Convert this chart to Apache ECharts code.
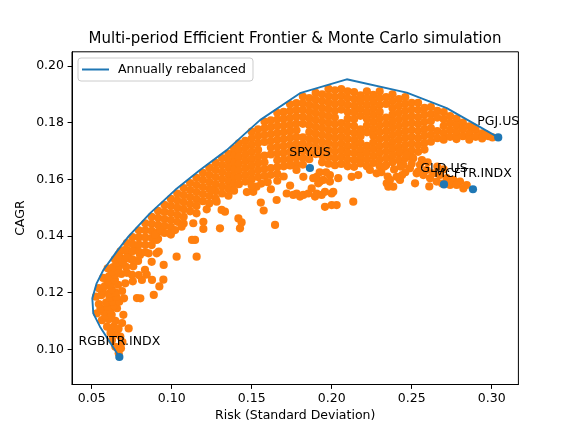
<!DOCTYPE html>
<html><head><meta charset="utf-8">
<script src="https://cdn.jsdelivr.net/npm/echarts@6/dist/echarts.min.js"></script>
<style>html,body{margin:0;padding:0;background:#fff}#c{width:576px;height:432px}</style>
</head><body><div id="c"></div>
<script>
// Axis ranges and ticks
const xMin = 0.0377, xMax = 0.3167;
const yMin = 0.0876, yMax = 0.2050;
const xTicks = [0.05, 0.10, 0.15, 0.20, 0.25, 0.30];
const yTicks = [0.10, 0.12, 0.14, 0.16, 0.18, 0.20];

// Efficient frontier (annually rebalanced)
const frontierRisk = [0.0673,0.0625,0.0552,0.0510,0.0504,0.0531,0.0573,0.0656,0.0729,0.0864,0.1021,0.1177,0.1344,0.1552,0.1802,0.2094,0.2469,0.2719,0.3041];
const frontierCagr = [0.0973,0.1015,0.1080,0.1127,0.1180,0.1233,0.1280,0.1345,0.1398,0.1480,0.1562,0.1633,0.1703,0.1809,0.1904,0.1953,0.1906,0.1851,0.1748];

// Assets
const assetNames = ['RGBITR.INDX','SPY.US','PGJ.US','GLD.US','MCFTR.INDX'];
const assetRisk = [0.0673,0.1864,0.3041,0.2702,0.2883];
const assetCagr = [0.0973,0.1640,0.1748,0.1582,0.1565];

// Monte Carlo portfolios (risk, CAGR)
const mcLowerLeft = [
[0.0669,0.0986],[0.0648,0.1009],[0.0683,0.1004],[0.0627,0.1033],[0.0679,0.1045],[0.0692,0.1026],[0.0655,0.1055],
[0.0596,0.1080],[0.0638,0.1080],[0.0668,0.1073],[0.0564,0.1103],[0.0606,0.1106],[0.0648,0.1101],[0.0690,0.1093],
[0.0731,0.1074],[0.0618,0.1058],[0.0585,0.1118],[0.0625,0.1122],
[0.0533,0.1127],[0.0575,0.1133],[0.0616,0.1139],[0.0658,0.1145],[0.0698,0.1122],[0.0555,0.1145],[0.0598,0.1150],[0.0640,0.1155],
[0.0545,0.1160],[0.0590,0.1165],[0.0630,0.1170],[0.0672,0.1168],[0.0702,0.1180],[0.0612,0.1182],[0.0655,0.1185],
[0.0527,0.1186],[0.0560,0.1191],[0.0605,0.1196],[0.0648,0.1201],[0.0690,0.1206],[0.0565,0.1208],[0.0625,0.1212],
[0.0783,0.1181],[0.0804,0.1180],[0.0888,0.1192],
[0.0545,0.1216],[0.0582,0.1223],[0.0620,0.1230],[0.0665,0.1228],[0.0710,0.1233],[0.0757,0.1240],[0.0600,0.1240],[0.0645,0.1245],
[0.0814,0.1245],[0.0877,0.1245],[0.0923,0.1222],[0.0948,0.1246],[0.0950,0.1298],
[0.0572,0.1252],[0.0608,0.1258],[0.0645,0.1263],[0.0685,0.1266],[0.0752,0.1263],[0.0794,0.1262],[0.0844,0.1264],[0.0625,0.1274],[0.0665,0.1280],[0.0720,0.1270],
[0.0600,0.1286],[0.0635,0.1290],[0.0672,0.1296],[0.0715,0.1291],[0.0760,0.1293],[0.0833,0.1281],[0.0875,0.1309],[0.0655,0.1305],[0.0695,0.1308],
[0.0645,0.1318],[0.0680,0.1322],[0.0712,0.1320],[0.0745,0.1318],[0.0790,0.1312],[0.0668,0.1334],[0.0728,0.1336],
[0.0680,0.1346],[0.0705,0.1350],[0.0802,0.1333],[0.0771,0.1362],[0.0856,0.1339],[0.0906,0.1339],[0.0919,0.1345],[0.1031,0.1327],[0.1156,0.1327]
];

const mcLeftArmColumns = [
[0.0720,[0.1375,0.1350,0.1325]],
[0.0755,[0.1396,0.1371,0.1346,0.1318]],
[0.0795,[0.1420,0.1395,0.1370,0.1344]],
[0.0835,[0.1445,0.1420,0.1395,0.1369,0.1343]],
[0.0875,[0.1468,0.1443,0.1418,0.1393,0.1368]],
[0.0915,[0.1489,0.1464,0.1439,0.1414,0.1390]],
[0.0955,[0.1510,0.1485,0.1460,0.1436,0.1411]],
[0.0995,[0.1531,0.1506,0.1481,0.1456,0.1431,0.1405]],
[0.1035,[0.1550,0.1525,0.1500,0.1475,0.1450]],
[0.1075,[0.1569,0.1544,0.1519,0.1494,0.1468,0.1444]],
[0.1115,[0.1587,0.1562,0.1537,0.1512,0.1487]],
[0.1155,[0.1605,0.1580,0.1555,0.1530,0.1506,0.1480]],
[0.1195,[0.1623,0.1598,0.1573,0.1548,0.1523]],
[0.1235,[0.1641,0.1616,0.1591,0.1566,0.1541,0.1515]],
[0.1275,[0.1658,0.1633,0.1608,0.1583,0.1558,0.1532]],
[0.1315,[0.1675,0.1650,0.1625,0.1600,0.1575,0.1550]],
[0.1355,[0.1691,0.1666,0.1641,0.1616,0.1592,0.1567,0.1542]],
[0.1390,[0.1709,0.1684,0.1659,0.1634,0.1610,0.1585,0.1560]]
];

const mcCoreColumns = [
[0.142,[0.1727,0.1703,0.1679,0.1655,0.1631,0.1607,0.1583]],
[0.146,[0.1736,0.1712,0.1688,0.1664,0.1640,0.1616,0.1592]],
[0.150,[0.1768,0.1744,0.1720,0.1696,0.1672,0.1648,0.1624,0.1600]],
[0.154,[0.1776,0.1752,0.1728,0.1704,0.1680,0.1656,0.1632,0.1608]],
[0.158,[0.1804,0.1780,0.1756,0.1732,0.1684,0.1660,0.1636,0.1612]],
[0.162,[0.1808,0.1784,0.1760,0.1736,0.1712,0.1688,0.1640,0.1616]],
[0.166,[0.1835,0.1811,0.1787,0.1763,0.1739,0.1715,0.1691,0.1667,0.1643,0.1619]],
[0.170,[0.1838,0.1814,0.1790,0.1766,0.1742,0.1718,0.1694,0.1670,0.1646]],
[0.174,[0.1865,0.1841,0.1817,0.1793,0.1769,0.1745,0.1721,0.1697,0.1673,0.1649]],
[0.178,[0.1869,0.1845,0.1821,0.1797,0.1773,0.1749,0.1725,0.1701,0.1677,0.1653]],
[0.182,[0.1892,0.1868,0.1844,0.1820,0.1796,0.1748,0.1724,0.1700,0.1676,0.1652]],
[0.186,[0.1887,0.1863,0.1839,0.1815,0.1791,0.1767,0.1743,0.1719,0.1695,0.1671]],
[0.190,[0.1905,0.1881,0.1857,0.1833,0.1809,0.1785,0.1761,0.1737,0.1713,0.1689]],
[0.194,[0.1900,0.1876,0.1852,0.1828,0.1804,0.1780,0.1756,0.1732,0.1708,0.1684,0.1660]],
[0.198,[0.1919,0.1895,0.1871,0.1847,0.1823,0.1799,0.1775,0.1751,0.1727,0.1703,0.1679,0.1655]],
[0.202,[0.1914,0.1890,0.1866,0.1842,0.1818,0.1794,0.1770,0.1746,0.1722,0.1698,0.1674,0.1650]],
[0.206,[0.1918,0.1894,0.1870,0.1846,0.1798,0.1774,0.1750,0.1726,0.1702,0.1678,0.1654]],
[0.210,[0.1910,0.1886,0.1862,0.1838,0.1814,0.1790,0.1766,0.1742,0.1718,0.1694,0.1670,0.1646]],
[0.214,[0.1908,0.1884,0.1860,0.1836,0.1812,0.1788,0.1764,0.1740,0.1716,0.1692,0.1668,0.1644]],
[0.218,[0.1896,0.1872,0.1848,0.1824,0.1776,0.1752,0.1728,0.1704,0.1680,0.1656]],
[0.222,[0.1910,0.1886,0.1862,0.1838,0.1814,0.1790,0.1766,0.1718,0.1694,0.1670,0.1646]],
[0.226,[0.1898,0.1874,0.1850,0.1826,0.1802,0.1778,0.1754,0.1730,0.1706,0.1682,0.1658]],
[0.230,[0.1910,0.1886,0.1862,0.1838,0.1814,0.1790,0.1766,0.1742,0.1718,0.1694,0.1670,0.1646]],
[0.234,[0.1890,0.1866,0.1818,0.1794,0.1770,0.1746,0.1722,0.1698,0.1674,0.1650]],
[0.238,[0.1900,0.1876,0.1852,0.1828,0.1804,0.1780,0.1756,0.1732,0.1708,0.1684,0.1660]],
[0.242,[0.1883,0.1859,0.1835,0.1811,0.1787,0.1763,0.1739,0.1715,0.1691,0.1667]],
[0.246,[0.1890,0.1866,0.1842,0.1818,0.1794,0.1770,0.1746,0.1722,0.1698,0.1674]],
[0.250,[0.1870,0.1846,0.1822,0.1798,0.1774,0.1750,0.1726,0.1702,0.1678]]
];

const mcRightArmColumns = [
[0.254,[0.1870,0.1845,0.1820,0.1796,0.1771,0.1746,0.1722,0.1697]],
[0.258,[0.1852,0.1828,0.1803,0.1778,0.1754,0.1729,0.1705]],
[0.262,[0.1855,0.1830,0.1806,0.1781,0.1757,0.1733]],
[0.266,[0.1842,0.1818,0.1770,0.1745]],
[0.270,[0.1837,0.1812,0.1788,0.1763,0.1740]],
[0.274,[0.1823,0.1798,0.1774,0.1750]],
[0.278,[0.1814,0.1790,0.1765,0.1742]],
[0.282,[0.1800,0.1776,0.1752]],
[0.286,[0.1787,0.1762,0.1740]],
[0.290,[0.1774,0.1750]],
[0.294,[0.1762,0.1744]],
[0.298,[0.1752]],
[0.3005,[0.1748]]
];

const mcRightLower = [
[0.2427,0.1698],[0.2469,0.1686],[0.2510,0.1674],[0.2448,0.1651],[0.2489,0.1639],[0.2552,0.1651],[0.2594,0.1633],
[0.2635,0.1621],[0.2677,0.1615],[0.2719,0.1604],[0.2760,0.1598],[0.2802,0.1592],[0.2844,0.1580],[0.2521,0.1586],
[0.2740,0.1580],[0.2781,0.1580],[0.2823,0.1568],[0.2656,0.1592],[0.2615,0.1604],[0.2573,0.1615],[0.2531,0.1621],
[0.2564,0.1668],[0.2600,0.1660],[0.2660,0.1645],[0.2700,0.1635],[0.2610,0.1575],[0.2690,0.1585],
[0.2310,0.1625],[0.2350,0.1610],[0.2330,0.1645],[0.2390,0.1635],[0.2430,0.1645],[0.2460,0.1625],[0.2500,0.1655],
[0.2440,0.1615],[0.2344,0.1586],[0.2385,0.1574],[0.2427,0.1598],[0.2541,0.1627],[0.2364,0.1598],[0.2406,0.1609],
[0.2880,0.1785],[0.2960,0.1760]
];

const mcSparse = [
[0.1062,0.1433],[0.1135,0.1445],[0.1198,0.1450],[0.1146,0.1386],[0.1198,0.1425],[0.1302,0.1427],[0.1427,0.1427],
[0.1437,0.1448],[0.1646,0.1439],[0.0989,0.1410],[0.1021,0.1421],[0.1127,0.1386],[0.1281,0.1521],[0.1312,0.1492],
[0.1219,0.1494],[0.1333,0.1486],[0.1417,0.1462],[0.1250,0.1562],[0.0906,0.1386],[0.0896,0.1404],[0.0927,0.1421],
[0.1510,0.1556],[0.1530,0.1574],[0.1557,0.1518],[0.1575,0.1490],[0.1656,0.1527],[0.1740,0.1578],[0.1719,0.1550],
[0.1760,0.1545],[0.1781,0.1550],[0.1802,0.1539],[0.1823,0.1545],[0.1854,0.1550],[0.1875,0.1568],[0.1896,0.1539],
[0.1906,0.1550],[0.1937,0.1545],[0.1958,0.1556],[0.2000,0.1550],[0.1958,0.1503],[0.2000,0.1509],[0.2031,0.1509],
[0.2135,0.1521],[0.1916,0.1586],[0.1927,0.1592],[0.1885,0.1604],[0.1989,0.1592],[0.2010,0.1556],[0.2041,0.1604],
[0.2125,0.1609],[0.2166,0.1615],[0.2239,0.1633],[0.2281,0.1621],[0.2354,0.1574],
[0.1740,0.1650],[0.1780,0.1633],[0.1823,0.1609],[0.1906,0.1609],[0.1948,0.1598],[0.1989,0.1615],[0.1925,0.1625],[0.1965,0.1625],
[0.1500,0.1578],[0.1560,0.1585],[0.1600,0.1590],[0.1660,0.1595],[0.1700,0.1610],[0.1620,0.1565],[0.1470,0.1555]
];

const expand = cols => cols.flatMap(([x, ys]) => ys.map(y => [x, y]));
const mcData = [].concat(mcLowerLeft, expand(mcLeftArmColumns), expand(mcCoreColumns), expand(mcRightArmColumns), mcRightLower, mcSparse);
const frontierData = frontierRisk.map((x, i) => [x, frontierCagr[i]]);
const assetData = assetNames.map((n, i) => ({ name: n, value: [assetRisk[i], assetCagr[i]] }));

const font = 'DejaVu Sans';
const chart = echarts.init(document.getElementById('c'), null, { renderer: 'canvas', width: 576, height: 432 });
chart.setOption({
  animation: false,
  backgroundColor: '#fff',
  title: {
    text: 'Multi-period Efficient Frontier & Monte Carlo simulation',
    left: 295, top: 32, textAlign: 'center', padding: 0,
    textStyle: { fontFamily: font, fontSize: 15, fontWeight: 'normal', color: '#000' }
  },
  legend: {
    data: [{ name: 'Annually rebalanced', icon: 'rect' }], left: 78, top: 58, padding: [4, 7, 4, 4],
    itemWidth: 27, itemHeight: 2,
    borderColor: '#cccccc', borderWidth: 1, borderRadius: 3, backgroundColor: 'rgba(255,255,255,0.8)',
    textStyle: { fontFamily: font, fontSize: 12.5, color: '#000', padding: [0, 0, 0, 4], lineHeight: 15 }
  },
  grid: { left: 72, right: 57.6, top: 51.8, bottom: 47.5, show: true, borderColor: '#000', borderWidth: 1, backgroundColor: 'transparent' },
  xAxis: {
    type: 'value', min: xMin, max: xMax,
    name: 'Risk (Standard Deviation)', nameLocation: 'middle', nameGap: 25, nameMoveOverlap: false,
    nameTextStyle: { fontFamily: font, fontSize: 12.5, color: '#000' },
    axisLine: { show: true, onZero: false, lineStyle: { color: '#000', width: 1 } },
    axisTick: { show: true, length: 4.4, customValues: xTicks, lineStyle: { color: '#000', width: 1 } },
    axisLabel: { customValues: xTicks, formatter: v => v.toFixed(2), margin: 8, color: '#000', fontFamily: font, fontSize: 12.5 },
    splitLine: { show: false }
  },
  yAxis: {
    type: 'value', min: yMin, max: yMax,
    name: 'CAGR', nameLocation: 'middle', nameGap: 45, nameRotate: 90, nameMoveOverlap: false,
    nameTextStyle: { fontFamily: font, fontSize: 12.5, color: '#000' },
    axisLine: { show: true, onZero: false, lineStyle: { color: '#000', width: 1 } },
    axisTick: { show: true, length: 4.4, customValues: yTicks, lineStyle: { color: '#000', width: 1 } },
    axisLabel: { customValues: yTicks, formatter: v => v.toFixed(2), margin: 8, color: '#000', fontFamily: font, fontSize: 12.5 },
    splitLine: { show: false }
  },
  series: [
    {
      type: 'scatter', name: 'Monte Carlo', data: mcData, symbol: 'circle', symbolSize: 8.2, z: 1, silent: true,
      itemStyle: { color: '#ff7f0e', opacity: 1, borderWidth: 0 }
    },
    {
      type: 'line', name: 'Annually rebalanced', data: frontierData, symbol: 'none', z: 2, silent: true,
      lineStyle: { color: '#1f77b4', width: 1.9 }, itemStyle: { color: '#1f77b4' }
    },
    {
      type: 'scatter', name: 'Assets', data: assetData, symbol: 'circle', symbolSize: 8.2, z: 3, silent: true,
      itemStyle: { color: '#1f77b4', opacity: 1, borderWidth: 0 },
      label: { show: true, position: 'top', distance: 5, formatter: '{b}', color: '#000', fontFamily: font, fontSize: 12.5 }
    }
  ]
});
</script>
</body></html>
